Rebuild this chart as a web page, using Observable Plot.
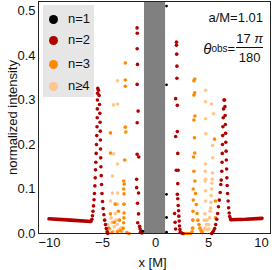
<!DOCTYPE html>
<html>
<head>
<meta charset="utf-8">
<script src="https://cdn.jsdelivr.net/npm/d3@7"></script>
<script src="https://cdn.jsdelivr.net/npm/@observablehq/plot@0.6"></script>
<style>
  body { margin: 0; background: white; }
  #wrap { position: relative; width: 272px; height: 270px; font-family: "Liberation Sans", Arial, sans-serif; }
  #wrap svg text { font-size: 13px; font-family: "Liberation Sans", Arial, sans-serif; }
  #legend { position: absolute; left: 43px; top: 5px; width: 51px; height: 92px; background: #e6e6e6; }
  .li { position: absolute; left: 0; height: 14px; width: 51px; }
  .li .c { position: absolute; left: 6px; top: 2.5px; width: 9px; height: 9px; border-radius: 50%; }
  .li .t { position: absolute; left: 25px; top: -1px; font-size: 13px; line-height: 16px; color: #111; }
  #am { position: absolute; right: 9px; top: 10px; font-size: 13px; line-height: 16px; color: #111; }
  #th { position: absolute; right: 9px; top: 31px; font-size: 13px; color: #111; display: flex; align-items: center; }
  #th .frac { display: inline-flex; flex-direction: column; align-items: center; margin-left: 1px; }
  #th .num { line-height: 15px; padding: 0 0 1px 0; }
  #th .den { line-height: 15px; border-top: 1px solid #111; padding-top: 2px; width: 100%; text-align: center; }
  #th sub { font-size: 10px; vertical-align: -4px; }
</style>
</head>
<body>
<div id="wrap"></div>
<script>
// ---- series data ----
const seriesNames = ["n=1", "n=2", "n=3", "n\u22654"];
const seriesColors = ["#000000", "#b20000", "#ff8a00", "#ffc68c"];

const n1x = [1.04, 1.04, 1.04, 1.04, 1.04, -1.2];
const n1y = [0.511, 0.334, 0.088, 0.036, 0.003, 0.005];

// n=2 flat tails (dense dots drawn as a thick line)
const n2LeftTailX = [-10.05, -8.0, -6.1];
const n2LeftTailY = [0.033, 0.030, 0.027];
const n2RightTailX = [7.1, 8.5, 10.05];
const n2RightTailY = [0.031, 0.032, 0.034];

const n2x = [
  // left peak, rising
  -6.1, -6.0, -5.95, -5.9, -5.85, -5.8, -5.76, -5.72, -5.69, -5.66, -5.63, -5.6, -5.57, -5.54, -5.52, -5.5, -5.49, -5.48, -5.47, -5.45,
  // left peak, falling
  -5.38, -5.32, -5.28, -5.25, -5.23, -5.21, -5.2, -5.19, -5.17, -5.15, -5.12, -5.09, -5.05, -5.0, -4.94, -4.87, -4.8, -4.72, -4.64, -4.57, -4.5,
  // column near x = -1.6
  -1.74, -1.72, -1.73, -1.70, -1.73, -1.64, -1.73, -1.73, -1.58, -1.78, -1.78, -1.60, -1.70, -1.60, -1.68, -1.45, -1.42, -1.5, -1.35, -1.28,
  // column near x = 2
  1.98, 1.98, 2.0, 2.02, 2.02, 1.90, 2.06, 2.06, 1.90, 2.10, 1.96, 2.14, 2.10, 2.06, 2.10, 2.14, 2.18, 2.20, 2.24, 2.26, 2.30, 2.34, 1.80, 1.85, 1.9, 2.45, 2.6,
  // right peak, rising
  5.3, 5.38, 5.48, 5.58, 5.68, 5.78, 5.86, 5.94, 6.02, 6.1, 6.16, 6.2, 6.25, 6.28, 6.3, 6.32, 6.34, 6.36, 6.39, 6.42, 6.46,
  // right peak, falling
  6.52, 6.55, 6.57, 6.59, 6.61, 6.63, 6.66, 6.68, 6.71, 6.73, 6.76, 6.8, 6.85, 6.9, 6.95, 7.0, 7.08
];
const n2y = [
  0.028, 0.032, 0.04, 0.05, 0.062, 0.076, 0.09, 0.107, 0.125, 0.143, 0.16, 0.18, 0.2, 0.22, 0.24, 0.26, 0.28, 0.3, 0.315, 0.326,
  0.322, 0.31, 0.29, 0.27, 0.25, 0.23, 0.21, 0.19, 0.17, 0.15, 0.13, 0.11, 0.09, 0.072, 0.056, 0.042, 0.03, 0.02, 0.011, 0.004, 0.0,
  0.462, 0.450, 0.415, 0.380, 0.335, 0.275, 0.249, 0.178, 0.172, 0.122, 0.103, 0.091, 0.068, 0.044, 0.024, 0.010, 0.003, 0.016, 0.005, 0.001,
  0.430, 0.423, 0.403, 0.376, 0.349, 0.303, 0.288, 0.229, 0.218, 0.180, 0.142, 0.142, 0.112, 0.088, 0.078, 0.063, 0.051, 0.039, 0.028, 0.017, 0.009, 0.003, 0.045, 0.025, 0.01, 0.001, 0.0,
  0.0, 0.002, 0.006, 0.011, 0.02, 0.032, 0.045, 0.06, 0.075, 0.092, 0.11, 0.12, 0.14, 0.16, 0.18, 0.20, 0.22, 0.24, 0.26, 0.28, 0.30,
  0.300, 0.285, 0.265, 0.245, 0.225, 0.205, 0.185, 0.165, 0.145, 0.125, 0.108, 0.09, 0.073, 0.058, 0.046, 0.038, 0.033
];

const n3x = [
  // left
  -2.85, -2.85, -2.85, -2.85, -2.8, -4.25, -4.25, -2.9, -2.95, -2.97, -2.97, -2.97, -2.98, -3.0, -3.05, -3.8, -3.5, -4.25, -4.4, -3.0, -3.0, -4.5, -4.1, -3.6, -3.3, -2.7, -2.5, -3.9, -3.4,
  // right
  3.62, 3.7, 3.62, 3.7, 3.62, 3.72, 3.68, 3.58, 3.7, 3.62, 3.72, 3.78, 3.85, 3.92, 4.0, 4.1, 4.2, 4.3, 4.4,
  3.56, 3.56, 3.54, 3.52, 3.5, 3.45, 3.3, 3.1, 2.9, 2.75, 5.57, 5.66, 5.66
];
const n3y = [
  0.383, 0.345, 0.331, 0.239, 0.228, 0.226, 0.181, 0.165, 0.111, 0.089, 0.066, 0.046, 0.035, 0.024, 0.012, 0.066, 0.05, 0.044, 0.012, 0.118, 0.10, 0.003, 0.002, 0.004, 0.006, 0.002, 0.0, 0.025, 0.03,
  0.343, 0.347, 0.311, 0.316, 0.255, 0.264, 0.215, 0.172, 0.181, 0.140, 0.118, 0.09, 0.065, 0.045, 0.03, 0.02, 0.012, 0.006, 0.002,
  0.10, 0.075, 0.05, 0.03, 0.012, 0.004, 0.0, 0.0, 0.0, 0.0, 0.212, 0.073, 0.035
];

const n4x = [
  // left
  -3.58, -3.96, -3.58, -3.96, -3.58, -4.06, -4.06, -3.58, -4.25, -3.58,
  -4.5, -4.3, -4.1, -3.9, -3.7, -3.5, -3.3, -3.1, -4.0, -3.8, -4.2, -3.6,
  // right
  4.72, 4.72, 4.72, 4.75, 4.72, 4.7, 4.72, 4.68, 4.72, 4.72, 4.66, 4.66, 4.4, 4.55, 4.8, 4.9, 5.0, 5.1, 5.15, 5.2, 5.22, 5.3, 5.32, 5.38, 5.28, 5.47, 5.38, 5.4, 5.35, 5.25, 4.85, 5.05, 4.6
];
const n4y = [
  0.343, 0.289, 0.291, 0.179, 0.156, 0.129, 0.091, 0.091, 0.073, 0.066,
  0.02, 0.01, 0.025, 0.015, 0.03, 0.008, 0.012, 0.004, 0.005, 0.045, 0.035, 0.02,
  0.322, 0.296, 0.258, 0.224, 0.156, 0.14, 0.122, 0.118, 0.096, 0.073, 0.044, 0.012, 0.004, 0.008, 0.02, 0.008, 0.02, 0.035, 0.05, 0.057, 0.07, 0.1, 0.113, 0.136, 0.291, 0.269, 0.198, 0.17, 0.122, 0.085, 0.03, 0.01, 0.03
];

const shadowEdges = [-1.04, 0.95];
const xTicks = [-10, -5, 0, 5, 10];
const yTicks = [0, 0.1, 0.2, 0.3, 0.4, 0.5];
const spinLabel = "a/M=1.01";
const thetaNum = "17 \u03c0";
const thetaDen = "180";

// ---- build tables ----
const zip = (xs, ys) => xs.map((x, i) => ({x, y: ys[i]}));
const n1 = zip(n1x, n1y), n2 = zip(n2x, n2y), n3 = zip(n3x, n3y), n4 = zip(n4x, n4y);
const leftTail = zip(n2LeftTailX, n2LeftTailY), rightTail = zip(n2RightTailX, n2RightTailY);

const chart = Plot.plot({
  width: 272, height: 270,
  marginLeft: 38, marginRight: 2, marginTop: 1, marginBottom: 37,
  style: {fontFamily: "'Liberation Sans', Arial, sans-serif", fontSize: "13px", background: "white", color: "#111"},
  x: {domain: [-11.04, 10.85], ticks: xTicks, tickSize: 0, tickPadding: 4, label: null},
  y: {domain: [0, 0.5213], ticks: yTicks, tickSize: 0, tickPadding: 3, tickFormat: d3.format(".1f"), label: null},
  marks: [
    Plot.rect([{x1: shadowEdges[0], x2: shadowEdges[1]}], {x1: "x1", x2: "x2", fill: "#808080"}),
    Plot.dot(n4, {x: "x", y: "y", r: 1.8, fill: seriesColors[3], stroke: "none"}),
    Plot.dot(n3, {x: "x", y: "y", r: 1.8, fill: seriesColors[2], stroke: "none"}),
    Plot.line(leftTail, {x: "x", y: "y", stroke: seriesColors[1], strokeWidth: 3.6, strokeLinecap: "round"}),
    Plot.line(rightTail, {x: "x", y: "y", stroke: seriesColors[1], strokeWidth: 3.6, strokeLinecap: "round"}),
    Plot.dot(n2, {x: "x", y: "y", r: 1.8, fill: seriesColors[1], stroke: "none"}),
    Plot.dot(n1, {x: "x", y: "y", r: 1.4, fill: seriesColors[0], stroke: "none"}),
    Plot.frame({stroke: "#222", strokeWidth: 1}),
    Plot.text(["x [M]"], {text: d => d, frameAnchor: "bottom", textAnchor: "middle", lineAnchor: "middle", dy: 29, dx: -2, fontSize: 13, fill: "#111"}),
    Plot.text(["normalized intensity"], {text: d => d, frameAnchor: "left", textAnchor: "middle", lineAnchor: "middle", dx: -26, rotate: -90, fontSize: 13, fill: "#111"})
  ]
});

const wrap = document.getElementById("wrap");
wrap.appendChild(chart);

// legend (inside the plot, top-left)
const legend = document.createElement("div");
legend.id = "legend";
const legendTops = [7, 28, 52, 74];
seriesNames.forEach((name, i) => {
  const item = document.createElement("div");
  item.className = "li";
  item.style.top = legendTops[i] + "px";
  const c = document.createElement("div");
  c.className = "c";
  c.style.background = seriesColors[i];
  const t = document.createElement("div");
  t.className = "t";
  t.textContent = name;
  item.appendChild(c); item.appendChild(t);
  legend.appendChild(item);
});
wrap.appendChild(legend);

// annotations (top-right)
const am = document.createElement("div");
am.id = "am";
am.textContent = spinLabel;
wrap.appendChild(am);

const th = document.createElement("div");
th.id = "th";
th.innerHTML = '<span style="font-style:italic;font-size:15px">\u03b8</span><sub>obs</sub><span>=</span>' +
  '<span class="frac"><span class="num">' + thetaNum.replace("\u03c0", '<i>\u03c0</i>') + '</span><span class="den">' + thetaDen + '</span></span>';
wrap.appendChild(th);
</script>
</body>
</html>
